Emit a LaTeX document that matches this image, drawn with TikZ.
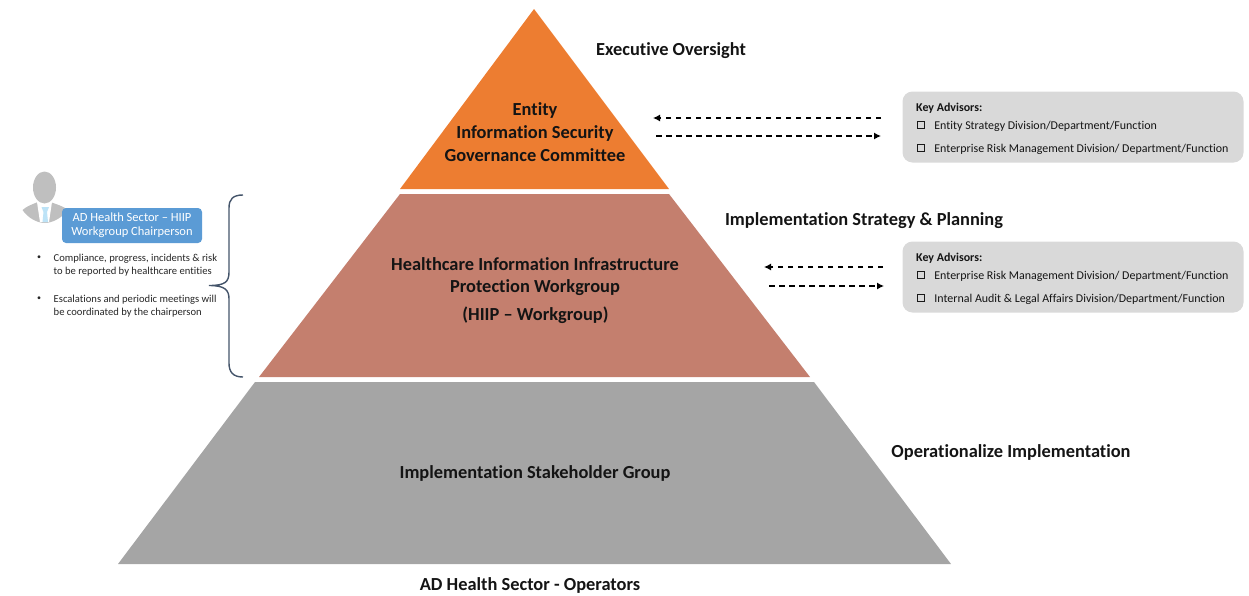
\documentclass[tikz,border=0pt]{standalone}
\usepackage{fontspec}
\setmainfont[Ligatures={NoCommon}]{Carlito}
\usetikzlibrary{arrows.meta}
\definecolor{cOrange}{HTML}{ED7D31}
\definecolor{cBrown}{HTML}{C47F6E}
\definecolor{cGray}{HTML}{A5A5A5}
\definecolor{cBox}{HTML}{D9D9D9}
\definecolor{cBlue}{HTML}{5B9BD5}
\definecolor{cBrace}{HTML}{44546A}
\definecolor{cIcon}{HTML}{BFBFBF}
\definecolor{cTie}{HTML}{BDE3F7}
\definecolor{cText}{HTML}{141414}
\newcommand{\chk}{\raisebox{0pt}{\tikz\draw[line width=1.2pt,black!90] (0,0) rectangle (7pt,7pt);}}
\tikzset{
  x=1pt,y=-1pt,
  title/.style={font=\bfseries\fontsize{18.4}{22}\selectfont,text=cText,inner sep=0,align=center},
  advbox/.style={fill=cBox,rounded corners=10pt,inner sep=0,minimum width=341pt,minimum height=71pt},
  advtext/.style={font=\fontsize{11.95}{14}\selectfont,text=cText,inner sep=0,anchor=west},
  small/.style={font=\fontsize{10.6}{13.5}\selectfont,text=black!85,inner sep=0,anchor=west,align=left},
  flow/.style={dash pattern=on 5.5pt off 4.5pt,line width=1.2pt,black,-{Latex[length=7pt,width=7pt]}},
}
\begin{document}
\begin{tikzpicture}
\useasboundingbox (0,0) rectangle (1249,595);
% pyramid
\fill[cOrange] (534,9) -- (669,189) -- (400,189) -- cycle;
\fill[cBrown] (400,194) -- (669,194) -- (810,377) -- (259,377) -- cycle;
\fill[cGray] (255,382) -- (814,382) -- (951,564) -- (118,564) -- cycle;
\node[title] (t1) at (535,132.5) {Entity\\[1pt]Information Security\\[1pt]Governance Committee};
\node[title] (t2) at (535,276.5) {Healthcare Information Infrastructure\\Protection Workgroup};
\node[title] (t2b) at (535.5,315) {(HIIP – Workgroup)};
\node[title] (t3) at (535,473) {Implementation Stakeholder Group};
\node[title] (l1) at (671,51) {Executive Oversight};
\node[title] (l2) at (864,221) {Implementation Strategy \& Planning};
\node[title] (l3) at (1011,452) {Operationalize Implementation};
\node[title] (l4) at (530,585) {AD Health Sector - Operators};
% advisors
\node[advbox] (b1) at (1073,127) {};
\node[advbox] (b2) at (1073,277) {};
\node[advtext,font=\bfseries\fontsize{11.95}{14}\selectfont] (k1) at (916,108) {Key Advisors:};
\node[advtext] (c1a) at (917,126) {\chk\hspace{9pt}Entity Strategy Division/Department/Function};
\node[advtext] (c1b) at (917,149) {\chk\hspace{9pt}Enterprise Risk Management Division/ Department/Function};
\node[advtext,font=\bfseries\fontsize{11.95}{14}\selectfont] (k2) at (916,258) {Key Advisors:};
\node[advtext] (c2a) at (917,276) {\chk\hspace{9pt}Enterprise Risk Management Division/ Department/Function};
\node[advtext] (c2b) at (917,299) {\chk\hspace{9pt}Internal Audit \& Legal Affairs Division/Department/Function};
% arrows
\coordinate (a1s) at (881,118); \coordinate (a1e) at (653,118);
\coordinate (a2s) at (656,136); \coordinate (a2e) at (881,136);
\coordinate (a3s) at (883,267); \coordinate (a3e) at (764,267);
\coordinate (a4s) at (769,286); \coordinate (a4e) at (884,286);
\draw[flow] (a1s) -- (a1e);
\draw[flow] (a2s) -- (a2e);
\draw[flow] (a3s) -- (a3e);
\draw[flow] (a4s) -- (a4e);
% person icon
\fill[cIcon] (22.5,210) .. controls (27,206) and (33,204) .. (38,202) -- (50,202) .. controls (56,204) and (63,206) .. (68,210) .. controls (62,218) and (52,223) .. (45,223) .. controls (37,223) and (28,218) .. (22.5,210) -- cycle;
\fill[white] (37,202) -- (52,202) -- (49,222) -- (40,222) -- cycle;
\fill[cTie] (41.5,207) -- (49,207) -- (47,212) -- (48,222) -- (42.5,222) -- (43.5,212) -- cycle;
\fill[cIcon] (44.5,187.5) ellipse [x radius=11.5pt,y radius=16pt];
% chair
\node[fill=cBlue,rounded corners=4pt,minimum width=140pt,minimum height=35pt,inner sep=0,text=white,align=center,font=\fontsize{12.5}{14}\selectfont] (chair) at (132,225.5) {AD Health Sector – HIIP\\Workgroup Chairperson};
\node[small,font=\fontsize{8}{10}\selectfont] (bu1) at (37,258) {•};
\node[small] (tx1) at (53.5,265) {Compliance, progress, incidents \& risk\\to be reported by healthcare entities};
\node[small,font=\fontsize{8}{10}\selectfont] (bu2) at (37,299) {•};
\node[small] (tx2) at (53.5,306) {Escalations and periodic meetings will\\be coordinated by the chairperson};
% brace
\draw[cBrace,line width=1.4pt] (243,195) .. controls (233,195) and (229,199) .. (229,208) -- (229,272) .. controls (229,282) and (225,285.5) .. (209,285.5) .. controls (225,285.5) and (229,290) .. (229,299) -- (229,363) .. controls (229,372) and (233,377) .. (243,377);
\end{tikzpicture}
\end{document}
